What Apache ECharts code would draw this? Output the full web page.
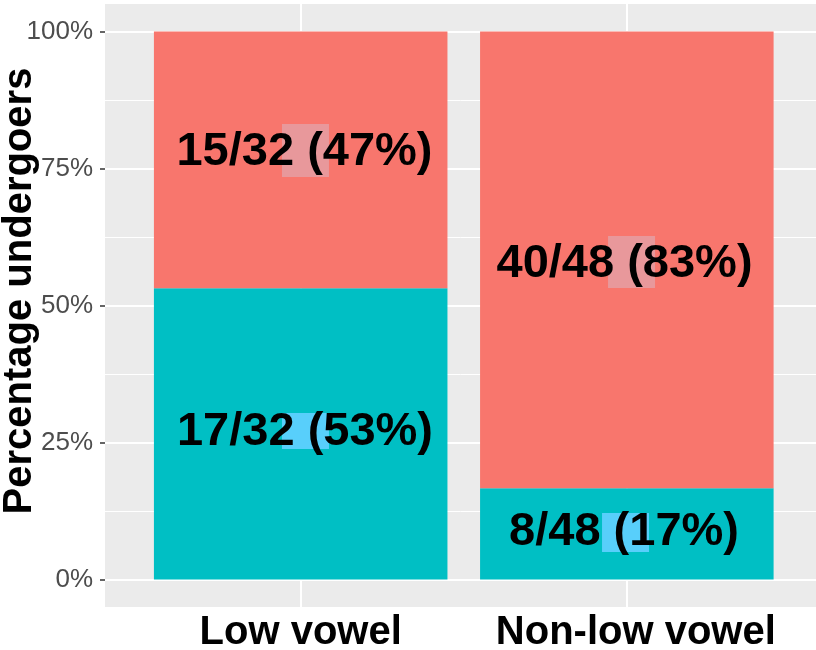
<!DOCTYPE html>
<html>
<head>
<meta charset="utf-8">
<script src="https://cdn.jsdelivr.net/npm/echarts@6/dist/echarts.min.js"></script>
<style>
html,body{margin:0;padding:0;background:#fff;}
#chart{width:816px;height:650px;}
</style>
</head>
<body>
<div id="chart"></div>
<script>
// ---- data ----
const categories = ['Low vowel', 'Non-low vowel'];
const undergoerCounts = [17, 8];      // teal, bottom segment
const nonUndergoerCounts = [15, 40];  // red, top segment
const totals = [32, 48];
const yTickValues = [0, 25, 50, 75, 100];
const yMinorValues = [12.5, 37.5, 62.5, 87.5];
const yAxisTitle = 'Percentage undergoers';

// ---- layout / style constants (not data) ----
const RED = '#F8766D', TEAL = '#00BFC4';
const PINK_BOX = '#E8989B', BLUE_BOX = '#58CFFB';
const FONT = '"Liberation Sans", Arial, Helvetica, sans-serif';
// order: [low-red, low-teal, nonlow-red, nonlow-teal]
const boxSizes = [[47, 53], [47, 36], [47, 52], [47, 39]];
const boxNudges = [[4.8, -9.4], [4.8, -3], [4.7, 2.2], [-1.3, -1.4]];
const textNudges = [[3.8, -8], [4.3, -1.6], [-2.3, 4], [-2.8, -2]];
const xLabelPads = [[0, 0, 0, 0], [0, 0, 0, 18]];

// ---- derived ----
const xPos = categories.map((c, i) => i + 1);
const pctUnder = undergoerCounts.map((n, i) => n / totals[i] * 100);
const pctNon = nonUndergoerCounts.map((n, i) => n / totals[i] * 100);
const fmt = (n, t) => `${n}/${t} (${Math.round(n / t * 100)}%)`;

// label anchor points: centres of the stacked segments
const anchors = [];
const texts = [];
const boxColors = [];
categories.forEach((c, i) => {
  anchors.push([c, pctUnder[i] + pctNon[i] / 2]);
  texts.push(fmt(nonUndergoerCounts[i], totals[i]));
  boxColors.push(PINK_BOX);
  anchors.push([c, pctUnder[i] / 2]);
  texts.push(fmt(undergoerCounts[i], totals[i]));
  boxColors.push(BLUE_BOX);
});

const chart = echarts.init(document.getElementById('chart'), null, {renderer: 'canvas'});

const gridLines = [];
yTickValues.forEach(v => gridLines.push({yAxis: v, lineStyle: {width: 2}}));
yMinorValues.forEach(v => gridLines.push({yAxis: v, lineStyle: {width: 1}}));
xPos.forEach(v => gridLines.push({xAxis: v, lineStyle: {width: 2}}));

// panel geometry: x from 0.4 to 2.58 over 105..816
const X_MIN = 0.4, X_MAX = 2.58, PANEL_L = 105, PANEL_R = 816;
const unit = (PANEL_R - PANEL_L) / (X_MAX - X_MIN);
const barGridLeft = PANEL_L + (1 - 0.5 - X_MIN) * unit;
const barGridRight = PANEL_R - (barGridLeft + 2 * unit);

const xRich = {};
categories.forEach((c, i) => {
  xRich['c' + i] = {
    fontSize: 40, fontWeight: 'bold', color: '#000', fontFamily: FONT,
    padding: xLabelPads[i]
  };
});

chart.setOption({
  animation: false,
  backgroundColor: '#ffffff',
  grid: [
    {left: PANEL_L, right: 816 - PANEL_R, top: 4, bottom: 43,
     containLabel: false, outerBoundsMode: 'none',
     show: true, backgroundColor: '#EBEBEB', borderWidth: 0},
    {left: barGridLeft, right: barGridRight, top: 4, bottom: 43,
     containLabel: false, outerBoundsMode: 'none', show: false}
  ],
  xAxis: [
    {
      gridIndex: 0, type: 'value', min: X_MIN, max: X_MAX,
      axisLine: {show: false},
      splitLine: {show: false},
      axisTick: {show: true, customValues: xPos, length: 5, lineStyle: {color: '#333333', width: 1.5}},
      axisLabel: {
        customValues: xPos,
        formatter: v => {
          const i = Math.round(v) - 1;
          return categories[i] ? `{c${i}|${categories[i]}}` : '';
        },
        rich: xRich,
        fontSize: 40, fontWeight: 'bold', color: '#000', fontFamily: FONT, margin: 6
      }
    },
    {
      gridIndex: 1, type: 'category', data: categories, show: false
    }
  ],
  yAxis: [
    {
      gridIndex: 0, type: 'value', min: -5, max: 105,
      axisLine: {show: false},
      splitLine: {show: false},
      axisTick: {show: true, customValues: yTickValues, length: 5, lineStyle: {color: '#333333', width: 1.5}},
      axisLabel: {
        customValues: yTickValues,
        formatter: '{value}%',
        fontSize: 26, color: '#4D4D4D', fontFamily: FONT, margin: 12
      }
    },
    {
      gridIndex: 1, type: 'value', min: -5, max: 105, show: false, splitLine: {show: false}
    }
  ],
  graphic: [{
    type: 'text',
    x: 20, y: 291,
    rotation: Math.PI / 2,
    style: {
      text: yAxisTitle, fontSize: 40, fontWeight: 'bold', fill: '#000',
      fontFamily: FONT, align: 'center', verticalAlign: 'middle'
    }
  }],
  series: [
    {
      type: 'line', data: [], silent: true, xAxisIndex: 0, yAxisIndex: 0,
      markLine: {
        silent: true, z: 1, symbol: 'none', animation: false,
        label: {show: false},
        lineStyle: {color: '#ffffff', type: 'solid'},
        data: gridLines
      }
    },
    {
      name: 'undergoer', type: 'bar', stack: 'total', z: 2,
      xAxisIndex: 1, yAxisIndex: 1,
      barWidth: '90%', silent: true,
      itemStyle: {color: TEAL},
      data: pctUnder
    },
    {
      name: 'non-undergoer', type: 'bar', stack: 'total', z: 2,
      xAxisIndex: 1, yAxisIndex: 1,
      barWidth: '90%', silent: true,
      itemStyle: {color: RED},
      data: pctNon
    },
    {
      name: 'boxes', type: 'scatter', z: 3, silent: true,
      xAxisIndex: 1, yAxisIndex: 1,
      data: anchors.map((p, k) => ({
        value: p,
        symbol: 'rect',
        symbolSize: boxSizes[k],
        symbolOffset: boxNudges[k],
        itemStyle: {color: boxColors[k], opacity: 1}
      }))
    },
    {
      name: 'labels', type: 'scatter', z: 4, silent: true,
      xAxisIndex: 1, yAxisIndex: 1,
      symbol: 'rect', symbolSize: 1,
      itemStyle: {color: 'rgba(0,0,0,0)', opacity: 1},
      data: anchors.map((p, k) => ({
        value: p,
        label: {
          show: true, position: 'inside', formatter: texts[k],
          offset: textNudges[k], opacity: 1,
          fontSize: 47, fontWeight: 'bold', color: '#000', fontFamily: FONT
        }
      }))
    }
  ]
});
</script>
</body>
</html>
